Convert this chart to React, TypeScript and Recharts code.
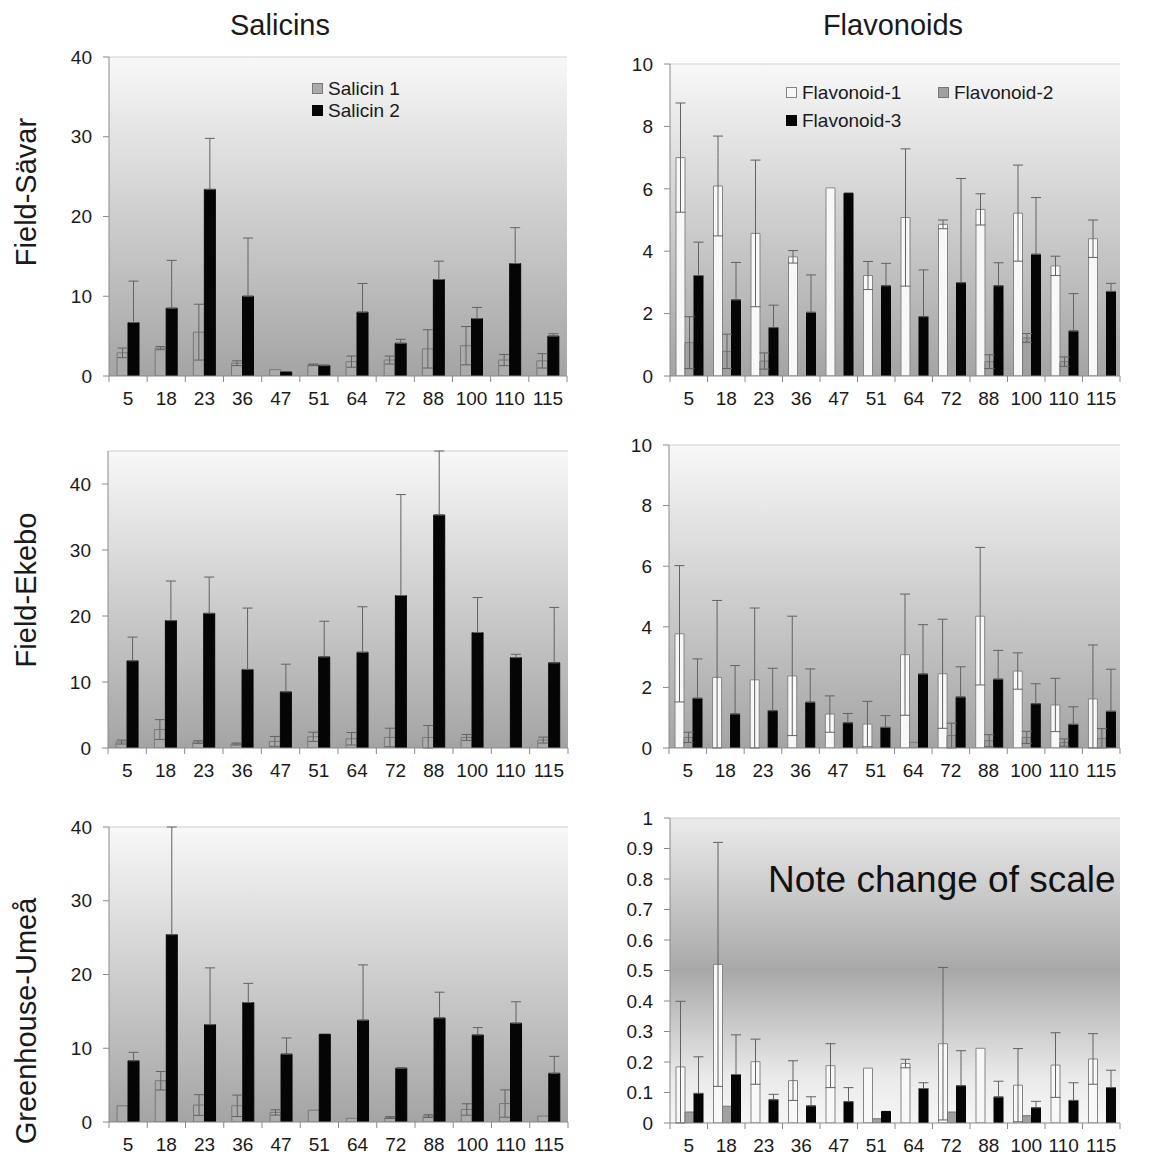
import {
    BarChart,
    Bar,
    XAxis,
    YAxis,
    ErrorBar,
    CartesianGrid,
    ReferenceLine,
    Legend
} from "recharts";

// sampling days on the x axis
const categories = ["5", "18", "23", "36", "47", "51", "64", "72", "88", "100", "110", "115"];

const salicinTicks = [0, 10, 20, 30, 40];
const flavonoidTicks = [0, 2, 4, 6, 8, 10];
const smallFlavonoidTicks = [0, 0.1, 0.2, 0.3, 0.4, 0.5, 0.6, 0.7, 0.8, 0.9, 1];

// Field-Sävar, salicins
const savarSalicin1 = [2.9, 3.5, 5.5, 1.6, 0.8, 1.4, 1.8, 2.0, 3.4, 3.8, 2.0, 1.9];
const savarSalicin1Err = [0.6, 0.2, 3.5, 0.3, 0, 0.1, 0.7, 0.5, 2.4, 2.4, 0.7, 0.9];
const savarSalicin2 = [6.7, 8.5, 23.4, 10.0, 0.5, 1.3, 8.0, 4.1, 12.1, 7.2, 14.1, 5.0];
const savarSalicin2Err = [5.2, 6.0, 6.4, 7.3, 0, 0.1, 3.6, 0.5, 2.3, 1.4, 4.5, 0.3];

// Field-Ekebo, salicins
const ekeboSalicin1 = [0.9, 2.8, 0.9, 0.6, 1.0, 1.7, 1.4, 1.6, 1.6, 1.6, 0, 1.2];
const ekeboSalicin1Err = [0.3, 1.5, 0.2, 0.15, 0.75, 0.7, 0.95, 1.4, 1.8, 0.45, 0, 0.45];
const ekeboSalicin2 = [13.2, 19.3, 20.4, 11.9, 8.5, 13.8, 14.5, 23.1, 35.3, 17.5, 13.7, 12.9];
const ekeboSalicin2Err = [3.6, 6.0, 5.5, 9.3, 4.2, 5.4, 6.9, 15.3, 9.7, 5.3, 0.5, 8.4];

// Greenhouse-Umeå, salicins
const umeaSalicin1 = [2.2, 5.6, 2.3, 2.2, 1.3, 1.6, 0.5, 0.6, 0.8, 1.7, 2.5, 0.8];
const umeaSalicin1Err = [0, 1.25, 1.4, 1.45, 0.36, 0, 0, 0.13, 0.18, 0.77, 1.85, 0];
const umeaSalicin2 = [8.3, 25.4, 13.2, 16.2, 9.2, 11.9, 13.8, 7.3, 14.1, 11.8, 13.4, 6.6];
const umeaSalicin2Err = [1.15, 14.6, 7.7, 2.6, 2.2, 0, 7.5, 0.05, 3.5, 1.0, 2.9, 2.3];

// Field-Sävar, flavonoids
const savarFlavonoid1 = [7.0, 6.09, 4.57, 3.82, 6.03, 3.22, 5.08, 4.86, 5.34, 5.22, 3.53, 4.4];
const savarFlavonoid1Err = [1.75, 1.6, 2.35, 0.2, 0, 0.45, 2.2, 0.14, 0.5, 1.54, 0.31, 0.6];
const savarFlavonoid2 = [1.07, 0.79, 0.48, 0, 0, 0, 0, 0, 0.46, 1.22, 0.46, 0];
const savarFlavonoid2Err = [0.83, 0.55, 0.26, 0, 0, 0, 0, 0, 0.22, 0.14, 0.15, 0];
const savarFlavonoid3 = [3.22, 2.44, 1.55, 2.04, 5.86, 2.89, 1.9, 2.99, 2.89, 3.9, 1.44, 2.71];
const savarFlavonoid3Err = [1.07, 1.2, 0.72, 1.2, 0, 0.72, 1.5, 3.34, 0.74, 1.82, 1.2, 0.26];

// Field-Ekebo, flavonoids
const ekeboFlavonoid1 = [3.77, 2.33, 2.25, 2.38, 1.12, 0.79, 3.08, 2.45, 4.35, 2.54, 1.42, 1.62];
const ekeboFlavonoid1Err = [2.25, 2.54, 2.37, 1.97, 0.6, 0.75, 2.0, 1.8, 2.27, 0.6, 0.88, 1.78];
const ekeboFlavonoid2 = [0.35, 0, 0, 0, 0, 0, 0.19, 0.41, 0.24, 0.35, 0.18, 0.31];
const ekeboFlavonoid2Err = [0.17, 0, 0, 0, 0, 0, 0, 0.41, 0.2, 0.2, 0.12, 0.33];
const ekeboFlavonoid3 = [1.64, 1.12, 1.23, 1.51, 0.83, 0.68, 2.44, 1.68, 2.27, 1.46, 0.78, 1.21];
const ekeboFlavonoid3Err = [1.3, 1.6, 1.4, 1.1, 0.31, 0.39, 1.63, 1.0, 0.95, 0.66, 0.58, 1.39];

// Greenhouse-Umeå, flavonoids
const umeaFlavonoid1 = [0.184, 0.52, 0.201, 0.139, 0.188, 0.18, 0.195, 0.26, 0.245, 0.124, 0.19, 0.21];
const umeaFlavonoid1Err = [0.215, 0.4, 0.074, 0.065, 0.072, 0, 0.014, 0.25, 0, 0.12, 0.106, 0.083];
const umeaFlavonoid2 = [0.036, 0.055, 0, 0, 0, 0.014, 0, 0.036, 0, 0.024, 0, 0];
const umeaFlavonoid2Err = [0, 0, 0, 0, 0, 0, 0, 0, 0, 0, 0, 0];
const umeaFlavonoid3 = [0.097, 0.159, 0.076, 0.056, 0.07, 0.038, 0.113, 0.122, 0.085, 0.05, 0.074, 0.116];
const umeaFlavonoid3Err = [0.12, 0.13, 0.018, 0.03, 0.046, 0, 0.019, 0.115, 0.052, 0.021, 0.058, 0.057];

const FONT = '"Liberation Sans", Arial, sans-serif';
const TEXT = "#1a1a1a";
const AXIS = "#8a8a8a";
const FRAME = "#cfcfcf";
const ERR = "#626262";

const Y_AXIS_W = 60;
const M_TOP = 12;
const M_RIGHT = 12;
const X_AXIS_H = 40;
const X_TICK_SIZE = 6;
const X_TICK_MARGIN = 10;

type Series = {
    key: string;
    name: string;
    fill: string;
    stroke: string;
    upOnly: boolean;
};

const salicinSeries: Series[] = [
    { key: "s1", name: "Salicin 1", fill: "#ababab", stroke: "#787878", upOnly: false },
    { key: "s2", name: "Salicin 2", fill: "#050505", stroke: "#050505", upOnly: true }
];

const flavonoidSeries: Series[] = [
    { key: "f1", name: "Flavonoid-1", fill: "#f8f8f8", stroke: "#858585", upOnly: false },
    { key: "f2", name: "Flavonoid-2", fill: "#a0a0a0", stroke: "#777777", upOnly: false },
    { key: "f3", name: "Flavonoid-3", fill: "#050505", stroke: "#050505", upOnly: true }
];

const plainStops = [
    { o: "0%", c: "#f8f8f8" },
    { o: "100%", c: "#a4a4a4" }
];

const bandStops = [
    { o: "0%", c: "#ebebeb" },
    { o: "50%", c: "#a8a8a8" },
    { o: "85%", c: "#eaeaea" },
    { o: "100%", c: "#f6f6f6" }
];

// whiskers stop at the zero line; black bars only show the upper half
function buildRows(series: Series[], values: number[][], errors: number[][]) {
    return categories.map((cat, i) => {
        const row: Record<string, any> = { cat };
        series.forEach((s, j) => {
            const v = values[j][i];
            const e = errors[j][i];
            row[s.key] = v;
            row[`${s.key}Err`] = e > 0
                ? [s.upOnly ? 0 : Math.min(e, v), e]
                : null;
        });
        return row;
    });
}

const savarSalicinRows = buildRows(salicinSeries,
    [savarSalicin1, savarSalicin2], [savarSalicin1Err, savarSalicin2Err]);
const ekeboSalicinRows = buildRows(salicinSeries,
    [ekeboSalicin1, ekeboSalicin2], [ekeboSalicin1Err, ekeboSalicin2Err]);
const umeaSalicinRows = buildRows(salicinSeries,
    [umeaSalicin1, umeaSalicin2], [umeaSalicin1Err, umeaSalicin2Err]);

const savarFlavonoidRows = buildRows(flavonoidSeries,
    [savarFlavonoid1, savarFlavonoid2, savarFlavonoid3],
    [savarFlavonoid1Err, savarFlavonoid2Err, savarFlavonoid3Err]);
const ekeboFlavonoidRows = buildRows(flavonoidSeries,
    [ekeboFlavonoid1, ekeboFlavonoid2, ekeboFlavonoid3],
    [ekeboFlavonoid1Err, ekeboFlavonoid2Err, ekeboFlavonoid3Err]);
const umeaFlavonoidRows = buildRows(flavonoidSeries,
    [umeaFlavonoid1, umeaFlavonoid2, umeaFlavonoid3],
    [umeaFlavonoid1Err, umeaFlavonoid2Err, umeaFlavonoid3Err]);

type LegendSpec = {
    left: number;
    top: number;
    columns: number;
    colWidth: number;
    rowHeight: number;
};

function LegendBox({ payload, spec }: { payload?: any[]; spec: LegendSpec }) {
    return (
        <div
            style={{
                display: "grid",
                gridTemplateColumns: `repeat(${spec.columns}, ${spec.colWidth}px)`,
                fontFamily: FONT,
                fontSize: 19,
                color: TEXT
            }}
        >
            {(payload || []).map((entry) => (
                <div
                    key={entry.value}
                    style={{ display: "flex", alignItems: "center", height: spec.rowHeight }}
                >
                    <span
                        style={{
                            display: "inline-block",
                            width: 11,
                            height: 11,
                            boxSizing: "border-box",
                            background: entry.payload?.fill ?? entry.color,
                            border: `1px solid ${entry.payload?.stroke ?? "#777"}`,
                            marginRight: 5
                        }}
                    />
                    <span style={{ lineHeight: 1 }}>{entry.value}</span>
                </div>
            ))}
        </div>
    );
}

type PanelProps = {
    x0: number;
    x1: number;
    y0: number;
    y1: number;
    rows: Record<string, any>[];
    series: Series[];
    max: number;
    ticks: number[];
    gap: string;
    gradId: string;
    stops: { o: string; c: string }[];
    legend?: LegendSpec;
};

function Panel({ x0, x1, y0, y1, rows, series, max, ticks, gap, gradId, stops, legend }: PanelProps) {

    const width = (x1 - x0) + Y_AXIS_W + M_RIGHT;
    const height = (y1 - y0) + M_TOP + X_AXIS_H;
    const halfBand = (x1 - x0) / categories.length / 2;

    const CategoryTick = (props: any) => {
        const { x, y, payload, index } = props;
        const half = typeof payload?.offset === "number" && payload.offset > 0 ? payload.offset : halfBand;
        const axisY = y - X_TICK_SIZE - X_TICK_MARGIN;
        const last = index === categories.length - 1;
        return (
            <g>
                <line x1={x - half} x2={x - half} y1={axisY} y2={axisY + X_TICK_SIZE} stroke={AXIS} />
                {last && (
                    <line x1={x + half} x2={x + half} y1={axisY} y2={axisY + X_TICK_SIZE} stroke={AXIS} />
                )}
                <text
                    x={x}
                    y={y}
                    dy="0.71em"
                    textAnchor="middle"
                    fontSize={19}
                    fontFamily={FONT}
                    fill={TEXT}
                >
                    {payload.value}
                </text>
            </g>
        );
    };

    return (
        <div
            style={{
                position: "absolute",
                left: x0 - Y_AXIS_W,
                top: y0 - M_TOP
            }}
        >
            <BarChart
                width={width}
                height={height}
                data={rows}
                margin={{ top: M_TOP, right: M_RIGHT, bottom: 0, left: 0 }}
                barCategoryGap={gap}
                barGap={0}
            >
                <defs>
                    <linearGradient id={gradId} x1="0" y1="0" x2="0" y2="1">
                        {stops.map((s) => (
                            <stop key={s.o} offset={s.o} stopColor={s.c} />
                        ))}
                    </linearGradient>
                </defs>

                <CartesianGrid
                    horizontal={false}
                    vertical={false}
                    stroke="none"
                    fill={`url(#${gradId})`}
                />

                <XAxis
                    dataKey="cat"
                    interval={0}
                    height={X_AXIS_H}
                    tickSize={X_TICK_SIZE}
                    tickMargin={X_TICK_MARGIN}
                    tickLine={false}
                    axisLine={{ stroke: AXIS }}
                    tick={<CategoryTick />}
                />

                <YAxis
                    type="number"
                    domain={[0, max]}
                    ticks={ticks}
                    allowDataOverflow
                    width={Y_AXIS_W}
                    tickSize={6}
                    tickMargin={11}
                    axisLine={{ stroke: AXIS }}
                    tickLine={{ stroke: AXIS }}
                    tick={{ fontSize: 19, fill: TEXT, fontFamily: FONT }}
                />

                <YAxis
                    yAxisId="frame"
                    orientation="right"
                    type="number"
                    domain={[0, max]}
                    width={0}
                    tick={false}
                    tickLine={false}
                    axisLine={{ stroke: FRAME }}
                />

                <ReferenceLine y={max} stroke={FRAME} />

                {legend && (
                    <Legend
                        layout="vertical"
                        align="center"
                        verticalAlign="middle"
                        wrapperStyle={{
                            left: legend.left - (x0 - Y_AXIS_W),
                            top: legend.top - (y0 - M_TOP),
                            width: legend.columns * legend.colWidth + 20
                        }}
                        content={(props: any) => <LegendBox payload={props.payload} spec={legend} />}
                    />
                )}

                {series.map((s) => (
                    <Bar
                        key={s.key}
                        dataKey={s.key}
                        name={s.name}
                        fill={s.fill}
                        stroke={s.stroke}
                        strokeWidth={1}
                        isAnimationActive={false}
                    >
                        <ErrorBar
                            dataKey={`${s.key}Err`}
                            direction="y"
                            width={5}
                            stroke={ERR}
                            strokeWidth={1}
                        />
                    </Bar>
                ))}
            </BarChart>
        </div>
    );
}

const rowLabel = (text: string, cx: number, cy: number) => (
    <div
        style={{
            position: "absolute",
            left: cx,
            top: cy,
            transform: "translate(-50%, -50%) rotate(-90deg)",
            whiteSpace: "nowrap",
            fontSize: 29,
            fontFamily: FONT,
            color: TEXT,
            lineHeight: 1
        }}
    >
        {text}
    </div>
);

const colTitle = (text: string, cx: number, cy: number) => (
    <div
        style={{
            position: "absolute",
            left: cx,
            top: cy,
            transform: "translate(-50%, -50%)",
            whiteSpace: "nowrap",
            fontSize: 29,
            fontFamily: FONT,
            color: TEXT,
            lineHeight: 1
        }}
    >
        {text}
    </div>
);

export default function App() {

    return (

        <div
            style={{
                position: "absolute",
                left: 0,
                top: 0,
                width: 1149,
                height: 1157,
                background: "#ffffff",
                overflow: "hidden"
            }}
        >

            {colTitle("Salicins", 280, 25)}
            {colTitle("Flavonoids", 893, 25)}

            {rowLabel("Field-Sävar", 26, 192)}
            {rowLabel("Field-Ekebo", 26, 590)}
            {rowLabel("Greenhouse-Umeå", 26, 1021)}

            <Panel
                x0={109} x1={567} y0={57} y1={376}
                rows={savarSalicinRows}
                series={salicinSeries}
                max={40}
                ticks={salicinTicks}
                gap="21%"
                gradId="bg1"
                stops={plainStops}
                legend={{ left: 312, top: 77, columns: 1, colWidth: 120, rowHeight: 22 }}
            />

            <Panel
                x0={670} x1={1120} y0={64} y1={376}
                rows={savarFlavonoidRows}
                series={flavonoidSeries}
                max={10}
                ticks={flavonoidTicks}
                gap="16%"
                gradId="bg2"
                stops={plainStops}
                legend={{ left: 786, top: 78, columns: 2, colWidth: 152, rowHeight: 28 }}
            />

            <Panel
                x0={108} x1={568} y0={451} y1={748}
                rows={ekeboSalicinRows}
                series={salicinSeries}
                max={45}
                ticks={salicinTicks}
                gap="21%"
                gradId="bg3"
                stops={plainStops}
            />

            <Panel
                x0={669} x1={1120} y0={445} y1={748}
                rows={ekeboFlavonoidRows}
                series={flavonoidSeries}
                max={10}
                ticks={flavonoidTicks}
                gap="16%"
                gradId="bg4"
                stops={plainStops}
            />

            <Panel
                x0={109} x1={568} y0={827} y1={1122}
                rows={umeaSalicinRows}
                series={salicinSeries}
                max={40}
                ticks={salicinTicks}
                gap="21%"
                gradId="bg5"
                stops={plainStops}
            />

            <Panel
                x0={670} x1={1120} y0={818} y1={1123}
                rows={umeaFlavonoidRows}
                series={flavonoidSeries}
                max={1}
                ticks={smallFlavonoidTicks}
                gap="16%"
                gradId="bg6"
                stops={bandStops}
            />

            <div
                style={{
                    position: "absolute",
                    left: 768,
                    top: 861,
                    fontSize: 37,
                    fontFamily: FONT,
                    color: "#111",
                    lineHeight: 1,
                    whiteSpace: "nowrap"
                }}
            >
                Note change of scale
            </div>

        </div>

    );
}
